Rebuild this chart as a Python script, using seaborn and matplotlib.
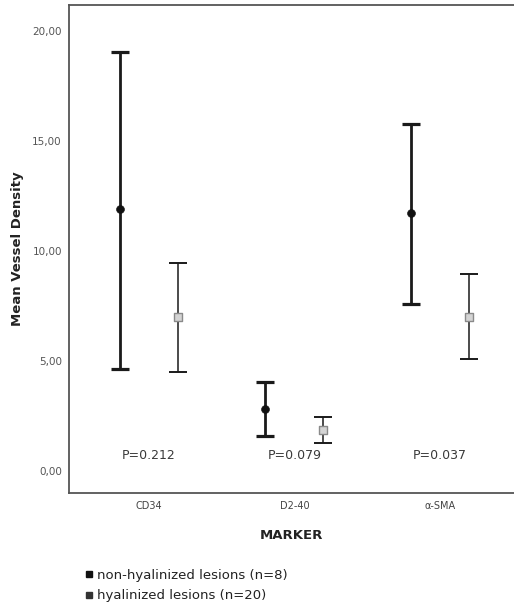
import numpy as np
import pandas as pd
import matplotlib
matplotlib.use("Agg")
import matplotlib.pyplot as plt
import seaborn as sns
from matplotlib.lines import Line2D

# values
markers = ["CD34", "D2-40", "α-SMA"]
p_values = ["P=0.212", "P=0.079", "P=0.037"]

non_mean = [11.9, 2.8, 11.75]
non_low = [4.65, 1.6, 7.6]
non_high = [19.05, 4.05, 15.8]

hya_mean = [7.0, 1.85, 7.0]
hya_low = [4.5, 1.25, 5.1]
hya_high = [9.45, 2.45, 8.95]

groups = ["non-hyalinized lesions (n=8)", "hyalinized lesions (n=20)"]
y_ticks = [0, 5, 10, 15, 20]

rows = []
for i, m in enumerate(markers):
    rows.append({"MARKER": m, "pos": i - 0.2, "group": groups[0],
                 "mean": non_mean[i], "low": non_low[i], "high": non_high[i]})
    rows.append({"MARKER": m, "pos": i + 0.2, "group": groups[1],
                 "mean": hya_mean[i], "low": hya_low[i], "high": hya_high[i]})
df = pd.DataFrame(rows)

sns.set_style("white")
plt.rcParams["font.family"] = ["DejaVu Sans"]

fig = plt.figure(figsize=(5.14, 6.10), dpi=100)
ax = fig.add_axes([0.134, 0.192, 0.866, 0.800])

styles = {groups[0]: 2.0, groups[1]: 1.1}

for g in groups:
    d = df[df["group"] == g]
    lw = styles[g]
    ax.errorbar(d["pos"], d["mean"],
                yerr=[d["mean"] - d["low"], d["high"] - d["mean"]],
                fmt="none", ecolor="#1a1a1a", elinewidth=lw,
                capsize=6.5, capthick=lw + 0.3, zorder=2)

sns.scatterplot(data=df[df["group"] == groups[0]], x="pos", y="mean",
                marker="o", color="#111111", s=32, edgecolor="#111111",
                ax=ax, zorder=3, legend=False)
sns.scatterplot(data=df[df["group"] == groups[1]], x="pos", y="mean",
                marker="s", color="#d4d4d4", s=32, edgecolor="#8a8a8a",
                linewidth=1.0, ax=ax, zorder=3, legend=False)

for i, p in enumerate(p_values):
    ax.text(i, 0.7, p, ha="center", va="center", fontsize=9, color="#3a3a3a")

ax.set_xlim(-0.55, 2.51)
ax.set_ylim(-1.0, 21.2)
ax.set_xticks(range(len(markers)))
ax.set_xticklabels(markers, fontsize=7, color="#444444")
ax.set_yticks(y_ticks)
ax.set_yticklabels([f"{v:.2f}".replace(".", ",") for v in y_ticks],
                   fontsize=7.5, color="#555555")
ax.tick_params(axis="y", direction="out", length=4, width=1, color="#333333", pad=1)
ax.tick_params(axis="x", direction="out", length=3, width=0.8, color="#555555", pad=3)
ax.set_xlabel("MARKER", fontsize=9.5, fontweight="bold", color="#222222", labelpad=13)
ax.set_ylabel("Mean Vessel Density", fontsize=9.5, fontweight="bold", color="#222222", labelpad=6)

for s in ["left", "top", "bottom"]:
    ax.spines[s].set_color("#555555")
    ax.spines[s].set_linewidth(1.3)
ax.spines["right"].set_visible(False)

handles = [
    Line2D([], [], marker="s", ls="none", color="#111111", ms=4.5),
    Line2D([], [], marker="s", ls="none", color="#333333", ms=4),
]
fig.legend(handles, groups, loc="upper left", bbox_to_anchor=(0.15, 0.078),
           frameon=False, fontsize=9.5, handletextpad=0.2, labelspacing=0.55,
           handlelength=0.8, borderpad=0, labelcolor="#222222")

fig.savefig("out.png", dpi=100)
